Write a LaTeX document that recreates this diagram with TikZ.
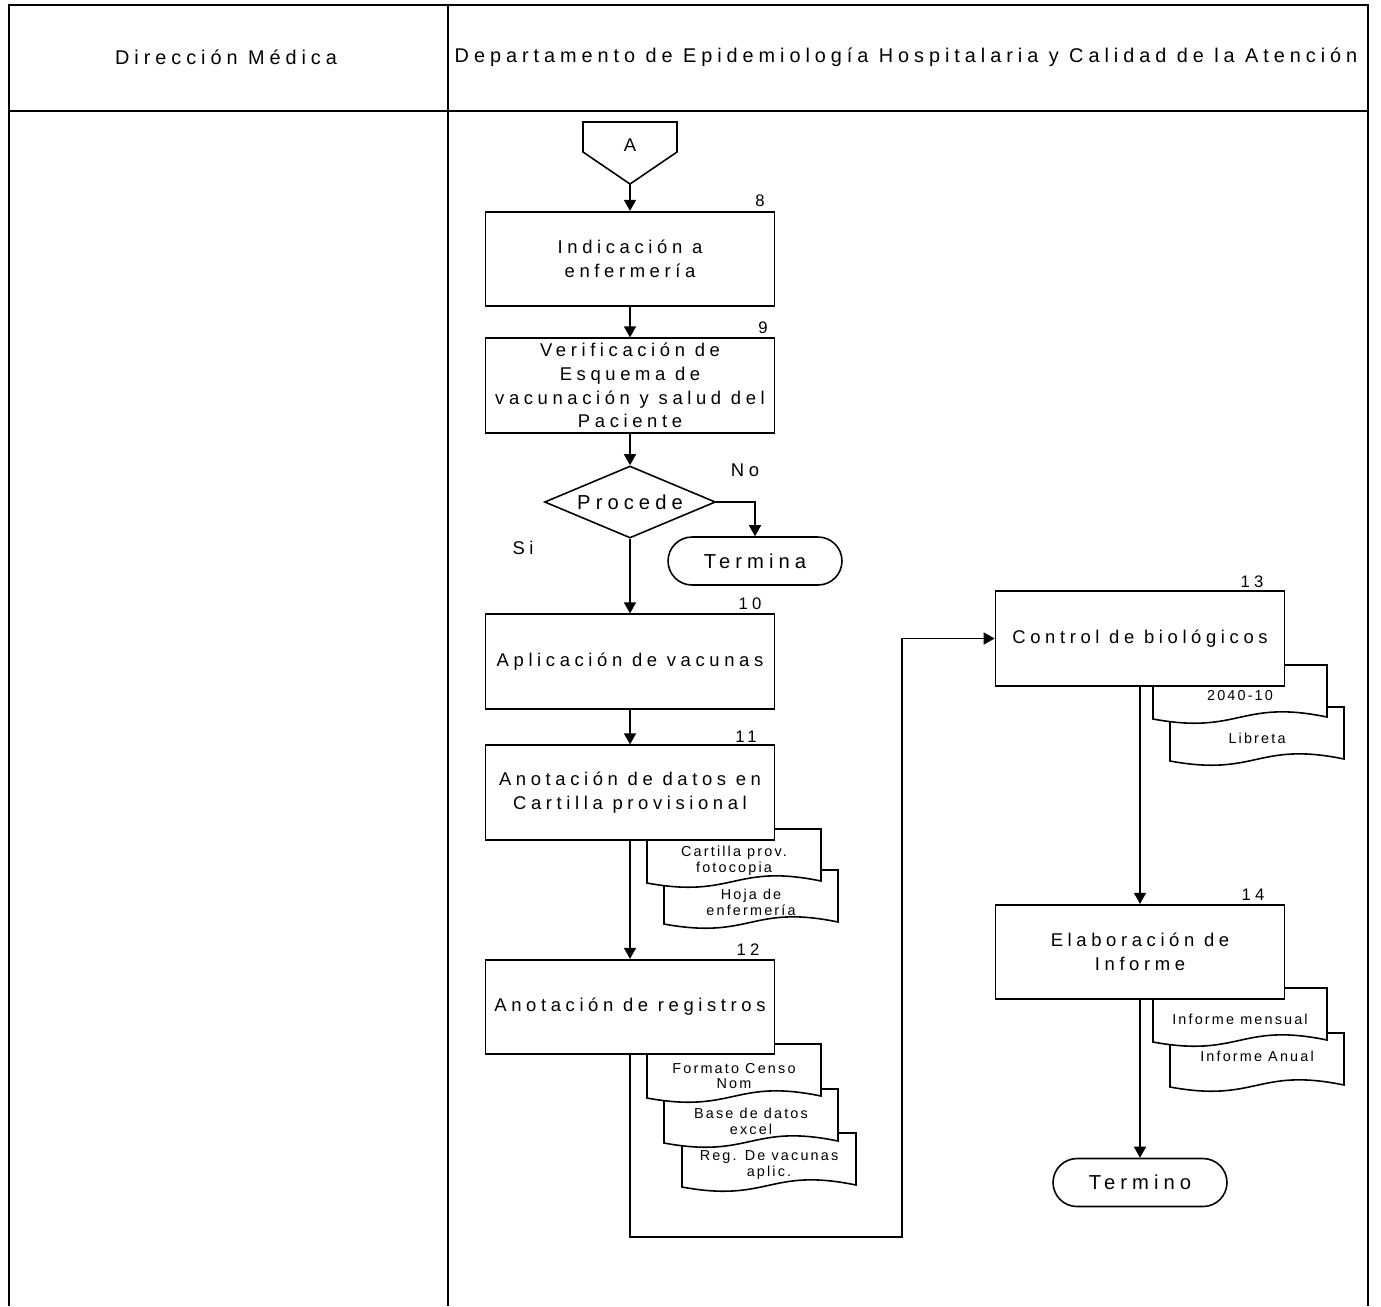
\documentclass[tikz,border=0pt]{standalone}
\usepackage{fontspec}
\setmainfont{Liberation Sans}[LetterSpace=25]
\newfontfamily\docfont{Liberation Sans}[LetterSpace=15]
\usetikzlibrary{shapes.geometric, arrows.meta}

% document symbol: name, left x, top y, text (optional: text offset)
\newcommand{\documento}[5][32]{%
    \draw[doc] (#3,#4) -- (#3+174,#4) -- (#3+174,#4+52)
        .. controls (#3+87,#4+34) and (#3+87,#4+70) .. (#3,#4+54) -- cycle;
    \node[doctext] (#2) at (#3+87,#4+#1) {#5};
}

\begin{document}
\begin{tikzpicture}[
    x=0.02cm, y=-0.02cm,
    every node/.style={font=\fontsize{10.5}{13.5}\selectfont, align=center, inner sep=1pt},
    proc/.style={draw, line width=1pt, fill=white, minimum width=5.78cm, minimum height=1.89cm},
    fin/.style={draw, line width=0.9pt, fill=white, rounded corners=0.48cm, minimum width=3.48cm, minimum height=0.96cm, font=\fontsize{11.5}{14}\selectfont},
    decide/.style={draw, line width=0.9pt, diamond, shape aspect=2.375, minimum width=3.42cm, minimum height=1.44cm, inner sep=0pt, font=\fontsize{11.5}{14}\selectfont},
    doc/.style={draw, line width=0.9pt, fill=white},
    doctext/.style={font=\docfont\fontsize{8.2}{9}\selectfont},
    num/.style={font=\fontsize{9.5}{11}\selectfont},
    frame/.style={line width=1pt},
    flow/.style={line width=0.8pt, -{Triangle[length=2.2mm, width=2.4mm]}}
]
    \useasboundingbox (0,0) rectangle (1381,1306);

    % 1. Swimlanes
    \draw[frame] (9,1306) -- (9,5) -- (1368,5) -- (1368,1306);
    \draw[frame] (9,111) -- (1368,111);
    \draw[frame] (448,5) -- (448,1306);
    \node[font=\fontsize{11.3}{13}\selectfont] (lane1) at (226,57) {Dirección Médica};
    \node[font=\fontsize{11.3}{13}\selectfont] (lane2) at (906,57) {Departamento de Epidemiología Hospitalaria y Calidad de la Atención};

    % 2. Documents (lowest first, so the upper ones and the boxes cover them)
    \documento{hoja}{664}{870}{Hoja de\\enfermería}
    \documento{cartilla}{647}{829}{Cartilla prov.\\fotocopia}
    \documento{regvac}{682}{1133}{Reg. De vacunas\\aplic.}
    \documento{base}{664}{1089}{Base de datos\\excel}
    \documento{censo}{647}{1044}{Formato Censo\\Nom}
    \documento[31]{libreta}{1170}{707}{Libreta}
    \documento[31]{formato}{1153}{665}{2040-10}
    \documento[23]{anual}{1170}{1033}{Informe Anual}
    \documento[31]{mensual}{1153}{988}{Informe mensual}

    % 3. Off-page connector A
    \draw[line width=0.9pt] (583,122) -- (677,122) -- (677,152) -- (630,184) -- (583,152) -- cycle;
    \node (conA) at (630,145) {A};
    \coordinate (tipA) at (630,184);

    % 4. Process steps
    \node[proc] (ind) at (630,259) {Indicación a\\enfermería};
    \node[proc] (verif) at (630,385.5) {Verificación de\\Esquema de\\vacunación y salud del\\Paciente};
    \node[decide] (procede) at (630,502) {Procede};
    \node[fin] (termina) at (755,561) {Termina};
    \node[proc] (aplic) at (630,661.5) {Aplicación de vacunas};
    \node[proc] (anot) at (630,792.5) {Anotación de datos en\\Cartilla provisional};
    \node[proc] (regs) at (630,1007) {Anotación de registros};
    \node[proc] (control) at (1140,638.5) {Control de biológicos};
    \node[proc] (informe) at (1140,952) {Elaboración de\\Informe};
    \node[fin] (termino) at (1140,1182.5) {Termino};

    % step numbers and labels
    \node[num] (n8) at (760,201) {8};
    \node[num] (n9) at (763,328) {9};
    \node[num] (n10) at (750,604) {10};
    \node[num] (n11) at (746,737) {11};
    \node[num] (n12) at (748,950) {12};
    \node[num] (n13) at (1252,582) {13};
    \node[num] (n14) at (1253,895) {14};
    \node (no) at (745,470) {No};
    \node (si) at (523,548) {Si};

    % 5. Connectors
    \draw[flow] (tipA) -- (ind);
    \draw[flow] (ind) -- (verif);
    \draw[flow] (verif) -- (procede);
    \draw[flow] (procede.east) -| (termina.north);
    \draw[flow] (procede.south) -- (aplic);
    \draw[flow] (aplic) -- (anot);
    \draw[flow] (anot) -- (regs);
    \coordinate (loop) at (902,1237);
    \draw[flow] (regs.south) |- (loop) |- (control.west);
    \draw[flow] (control) -- (informe);
    \draw[flow] (informe) -- (termino);

\end{tikzpicture}
\end{document}
